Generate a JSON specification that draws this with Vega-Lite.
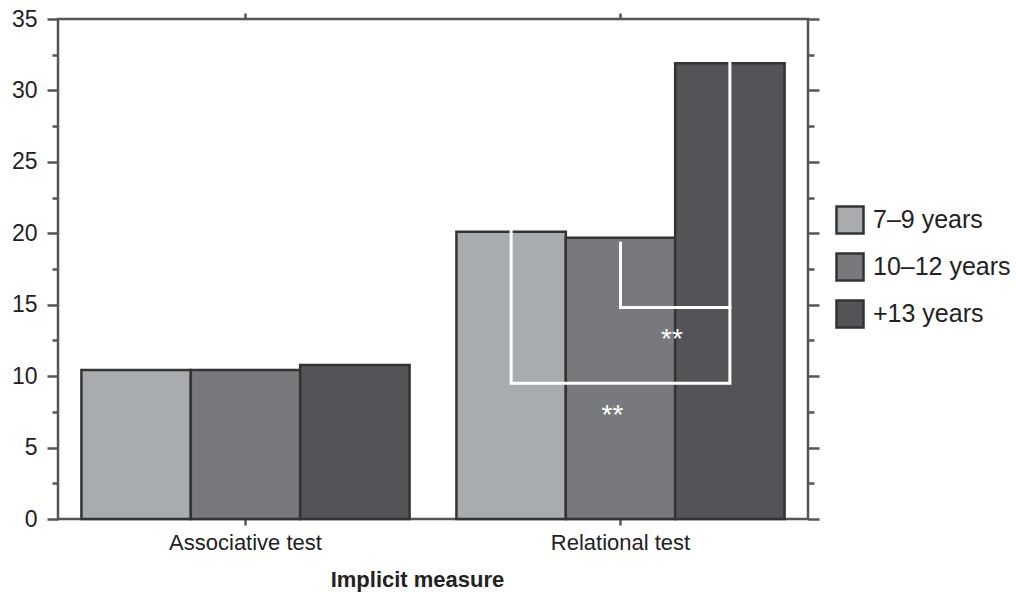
{
  "$schema": "https://vega.github.io/schema/vega-lite/v6.json",
  "autosize": "none",
  "width": 750,
  "height": 500,
  "padding": {"left": 58, "top": 19, "right": 208, "bottom": 73},
  "background": "white",
  "config": {
    "view": {"stroke": "#555555", "strokeWidth": 2.5},
    "font": "Liberation Sans",
    "axis": {"labelFont": "Liberation Sans", "titleFont": "Liberation Sans", "labelColor": "#222222", "titleColor": "#222222", "tickColor": "#555555", "tickWidth": 2.5, "domain": false, "grid": false}
  },
  "datasets": {
    "bars": [
      {"test": "Associative test", "group": "7–9 years", "value": 10.43},
      {"test": "Associative test", "group": "10–12 years", "value": 10.43},
      {"test": "Associative test", "group": "+13 years", "value": 10.78},
      {"test": "Relational test", "group": "7–9 years", "value": 20.1},
      {"test": "Relational test", "group": "10–12 years", "value": 19.68},
      {"test": "Relational test", "group": "+13 years", "value": 31.9}
    ],
    "brackets": [
      {"bracket": "a", "i": 1, "test": "Relational test", "group": "7–9 years", "value": 20.2},
      {"bracket": "a", "i": 2, "test": "Relational test", "group": "7–9 years", "value": 9.5},
      {"bracket": "a", "i": 3, "test": "Relational test", "group": "+13 years", "value": 9.5},
      {"bracket": "a", "i": 4, "test": "Relational test", "group": "+13 years", "value": 31.9},
      {"bracket": "b", "i": 1, "test": "Relational test", "group": "10–12 years", "value": 19.3},
      {"bracket": "b", "i": 2, "test": "Relational test", "group": "10–12 years", "value": 14.8},
      {"bracket": "b", "i": 3, "test": "Relational test", "group": "+13 years", "value": 14.8}
    ],
    "star1": [
      {"test": "Relational test", "group": "+13 years", "value": 11.97, "label": "**"}
    ],
    "star2": [
      {"test": "Relational test", "group": "10–12 years", "value": 6.65, "label": "**"}
    ]
  },
  "layer": [
    {
      "data": {"name": "bars"},
      "mark": {"type": "bar", "stroke": "#333333", "strokeWidth": 2.5},
      "encoding": {
        "x": {"field": "test", "type": "nominal", "sort": ["Associative test", "Relational test"],
          "scale": {"paddingInner": 0.125, "paddingOuter": 0.0625},
          "axis": {"orient": "bottom", "title": "Implicit measure", "labelAngle": 0, "labelFontSize": 22, "tickSize": 6, "labelPadding": 7, "titleFontSize": 22, "titleFontWeight": "bold", "titlePadding": 16, "titleX": 359, "titleAlign": "center", "titleAnchor": "start"}},
        "xOffset": {"field": "group", "type": "nominal", "scale": {"domain": ["7–9 years", "10–12 years", "+13 years"], "paddingInner": 0, "paddingOuter": 0}},
        "y": {"field": "value", "type": "quantitative", "scale": {"domain": [0, 35], "nice": false},
          "axis": {"orient": "left", "title": null, "values": [0, 2.5, 5, 7.5, 10, 12.5, 15, 17.5, 20, 22.5, 25, 27.5, 30, 32.5, 35],
            "labelExpr": "datum.value % 5 === 0 ? datum.label : ''", "labelFontSize": 23, "labelPadding": 10,
            "tickSize": {"condition": {"test": "datum.value % 5 === 0", "value": 11}, "value": 6}}},
        "color": {"field": "group", "type": "nominal", "scale": {"domain": ["7–9 years", "10–12 years", "+13 years"], "range": ["#a9acaf", "#77797c", "#525457"]},
          "legend": {"title": null, "orient": "none", "legendX": 777, "legendY": 186, "symbolType": "square", "symbolSize": 729, "symbolStrokeColor": "#333333", "symbolStrokeWidth": 2.5, "labelFontSize": 25, "labelFont": "Liberation Sans", "labelColor": "#222222", "rowPadding": 9, "labelOffset": 8}}
      }
    },
    {
      "data": {"name": "brackets"},
      "mark": {"type": "line", "color": "white", "strokeWidth": 3, "strokeJoin": "miter", "strokeCap": "square"},
      "encoding": {
        "x": {"field": "test", "type": "nominal", "sort": ["Associative test", "Relational test"],
          "axis": {"orient": "top", "title": null, "labels": false, "tickSize": 6}},
        "xOffset": {"field": "group", "type": "nominal"},
        "y": {"field": "value", "type": "quantitative",
          "axis": {"orient": "right", "title": null, "values": [0, 2.5, 5, 7.5, 10, 12.5, 15, 17.5, 20, 22.5, 25, 27.5, 30, 32.5, 35], "labels": false,
            "tickSize": {"condition": {"test": "datum.value % 5 === 0", "value": 11}, "value": 6}}},
        "detail": {"field": "bracket"},
        "order": {"field": "i", "type": "quantitative"}
      }
    },
    {
      "data": {"name": "star1"},
      "mark": {"type": "text", "color": "white", "fontSize": 28, "font": "Liberation Sans", "baseline": "alphabetic", "align": "center", "dx": -58},
      "encoding": {
        "x": {"field": "test", "type": "nominal", "axis": null},
        "xOffset": {"field": "group", "type": "nominal"},
        "y": {"field": "value", "type": "quantitative", "axis": null},
        "text": {"field": "label"}
      }
    },
    {
      "data": {"name": "star2"},
      "mark": {"type": "text", "color": "white", "fontSize": 28, "font": "Liberation Sans", "baseline": "alphabetic", "align": "center", "dx": -8},
      "encoding": {
        "x": {"field": "test", "type": "nominal", "axis": null},
        "xOffset": {"field": "group", "type": "nominal"},
        "y": {"field": "value", "type": "quantitative", "axis": null},
        "text": {"field": "label"}
      }
    }
  ],
  "resolve": {"axis": {"x": "independent", "y": "independent"}}
}
